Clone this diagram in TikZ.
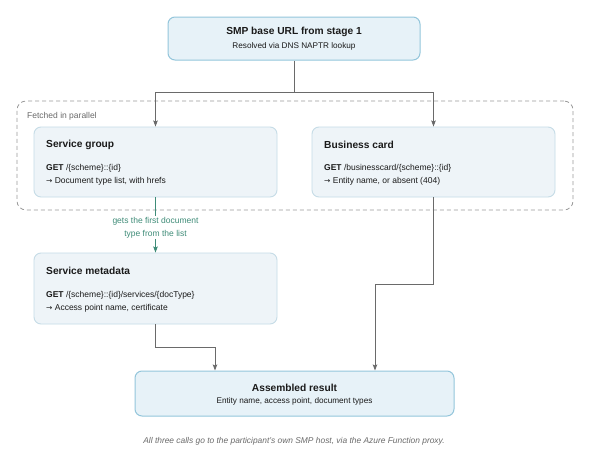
\documentclass[tikz,border=0pt]{standalone}
\usepackage{fontspec}
\setmainfont{Liberation Sans}
\newfontfamily\arrowfont{DejaVu Sans}
\newcommand{\resarrow}{{\arrowfont\fontsize{7.5}{10}\selectfont →}}
\usetikzlibrary{arrows.meta,calc}
\definecolor{keyfill}{HTML}{E7F2F8}
\definecolor{keyline}{HTML}{94C6DB}
\definecolor{stepfill}{HTML}{EEF4F8}
\definecolor{stepline}{HTML}{C6DCE7}
\definecolor{connc}{HTML}{6A6A6A}
\definecolor{tealc}{HTML}{3F8C78}
\definecolor{grpline}{HTML}{9A9A9A}
\definecolor{txt}{HTML}{1A1A1A}
\definecolor{note}{HTML}{6A6A6A}
\begin{document}
\begin{tikzpicture}[x=1pt,y=-1pt,
  keybox/.style={draw=keyline,fill=keyfill,line width=1pt,rounded corners=7pt,inner sep=0pt},
  stepbox/.style={draw=stepline,fill=stepfill,line width=0.9pt,rounded corners=7pt,inner sep=0pt},
  grp/.style={draw=grpline,dashed,dash pattern=on 4pt off 3pt,line width=0.8pt,rounded corners=9pt},
  conn/.style={draw=connc,line width=1pt,-{Stealth[length=6pt,width=4.5pt,inset=1pt]}},
  plainconn/.style={draw=connc,line width=1pt},
  tealconn/.style={draw=tealc,line width=1pt,-{Stealth[length=6pt,width=4.5pt,inset=1pt]}},
  ttl/.style={font=\bfseries\fontsize{10.2}{12}\selectfont,text=txt,inner sep=0pt},
  sttl/.style={font=\bfseries\fontsize{10.2}{12}\selectfont,text=txt,inner sep=0pt,anchor=west},
  body/.style={font=\fontsize{8.5}{10}\selectfont,text=txt,inner sep=0pt},
  sbody/.style={font=\fontsize{8.2}{10}\selectfont,text=txt,inner sep=0pt},
  lbody/.style={body,anchor=west},
  lbl/.style={font=\fontsize{8.5}{13}\selectfont,text=tealc,align=center,inner sep=1pt,fill=white},
  grplbl/.style={font=\fontsize{8.5}{10}\selectfont,text=note,inner sep=0pt,anchor=west},
  foot/.style={font=\itshape\fontsize{8.4}{10}\selectfont,text=note,inner sep=0pt}]
\useasboundingbox[fill=white] (0,0) rectangle (590,472);

% group
\node[grp,minimum width=556pt,minimum height=109pt] (group) at (295,155.5) {};
\node[grplbl] (grouplabel) at (27,116) {Fetched in parallel};

% boxes
\node[keybox,minimum width=252pt,minimum height=43pt] (top) at (294,38.5) {};
\node[ttl] (toptitle) at (294,32) {SMP base URL from stage 1};
\node[sbody] (topsub) at (294,46) {Resolved via DNS NAPTR lookup};

\node[stepbox,minimum width=243pt,minimum height=70pt] (sg) at (155.5,162) {};
\node[sttl] (sgtitle) at (46,145) {Service group};
\node[lbody] (sgget) at (46,168) {\textbf{GET} /\{scheme\}::\{id\}};
\node[lbody] (sgres) at (46,181) {\resarrow\ Document type list, with hrefs};

\node[stepbox,minimum width=243pt,minimum height=70pt] (bc) at (433.5,162) {};
\node[sttl] (bctitle) at (324,145) {Business card};
\node[lbody] (bcget) at (324,168) {\textbf{GET} /businesscard/\{scheme\}::\{id\}};
\node[lbody] (bcres) at (324,181) {\resarrow\ Entity name, or absent (404)};

\node[stepbox,minimum width=243pt,minimum height=71pt] (sm) at (155.5,288.5) {};
\node[sttl] (smtitle) at (46,271) {Service metadata};
\node[lbody] (smget) at (46,295) {\textbf{GET} /\{scheme\}::\{id\}/services/\{docType\}};
\node[lbody] (smres) at (46,308) {\resarrow\ Access point name, certificate};

\node[keybox,minimum width=319pt,minimum height=45pt] (ar) at (294.5,393.5) {};
\node[ttl] (artitle) at (294.5,388) {Assembled result};
\node[sbody] (arsub) at (294.5,401.5) {Entity name, access point, document types};

% connectors
\coordinate (split) at (294,92.5);
\draw[plainconn] (top.south) -- (split);
\draw[conn] (split) -| (sg.north);
\draw[conn] (split) -| (bc.north);

\draw[tealconn] (sg.south) -- (sm.north)
  node[lbl,pos=0.55] (tlabel) {gets the first document\\type from the list};

\coordinate (smbend) at (155.5,347);
\coordinate (bcbend) at (433.5,284);
\draw[conn] (sm.south) -- (smbend) -| ([xshift=-79.5pt]ar.north);
\draw[conn] (bc.south) -- (bcbend) -| ([xshift=80.5pt]ar.north);

\node[foot] (footer) at (294,441) {All three calls go to the participant's own SMP host, via the Azure Function proxy.};
\end{tikzpicture}
\end{document}
